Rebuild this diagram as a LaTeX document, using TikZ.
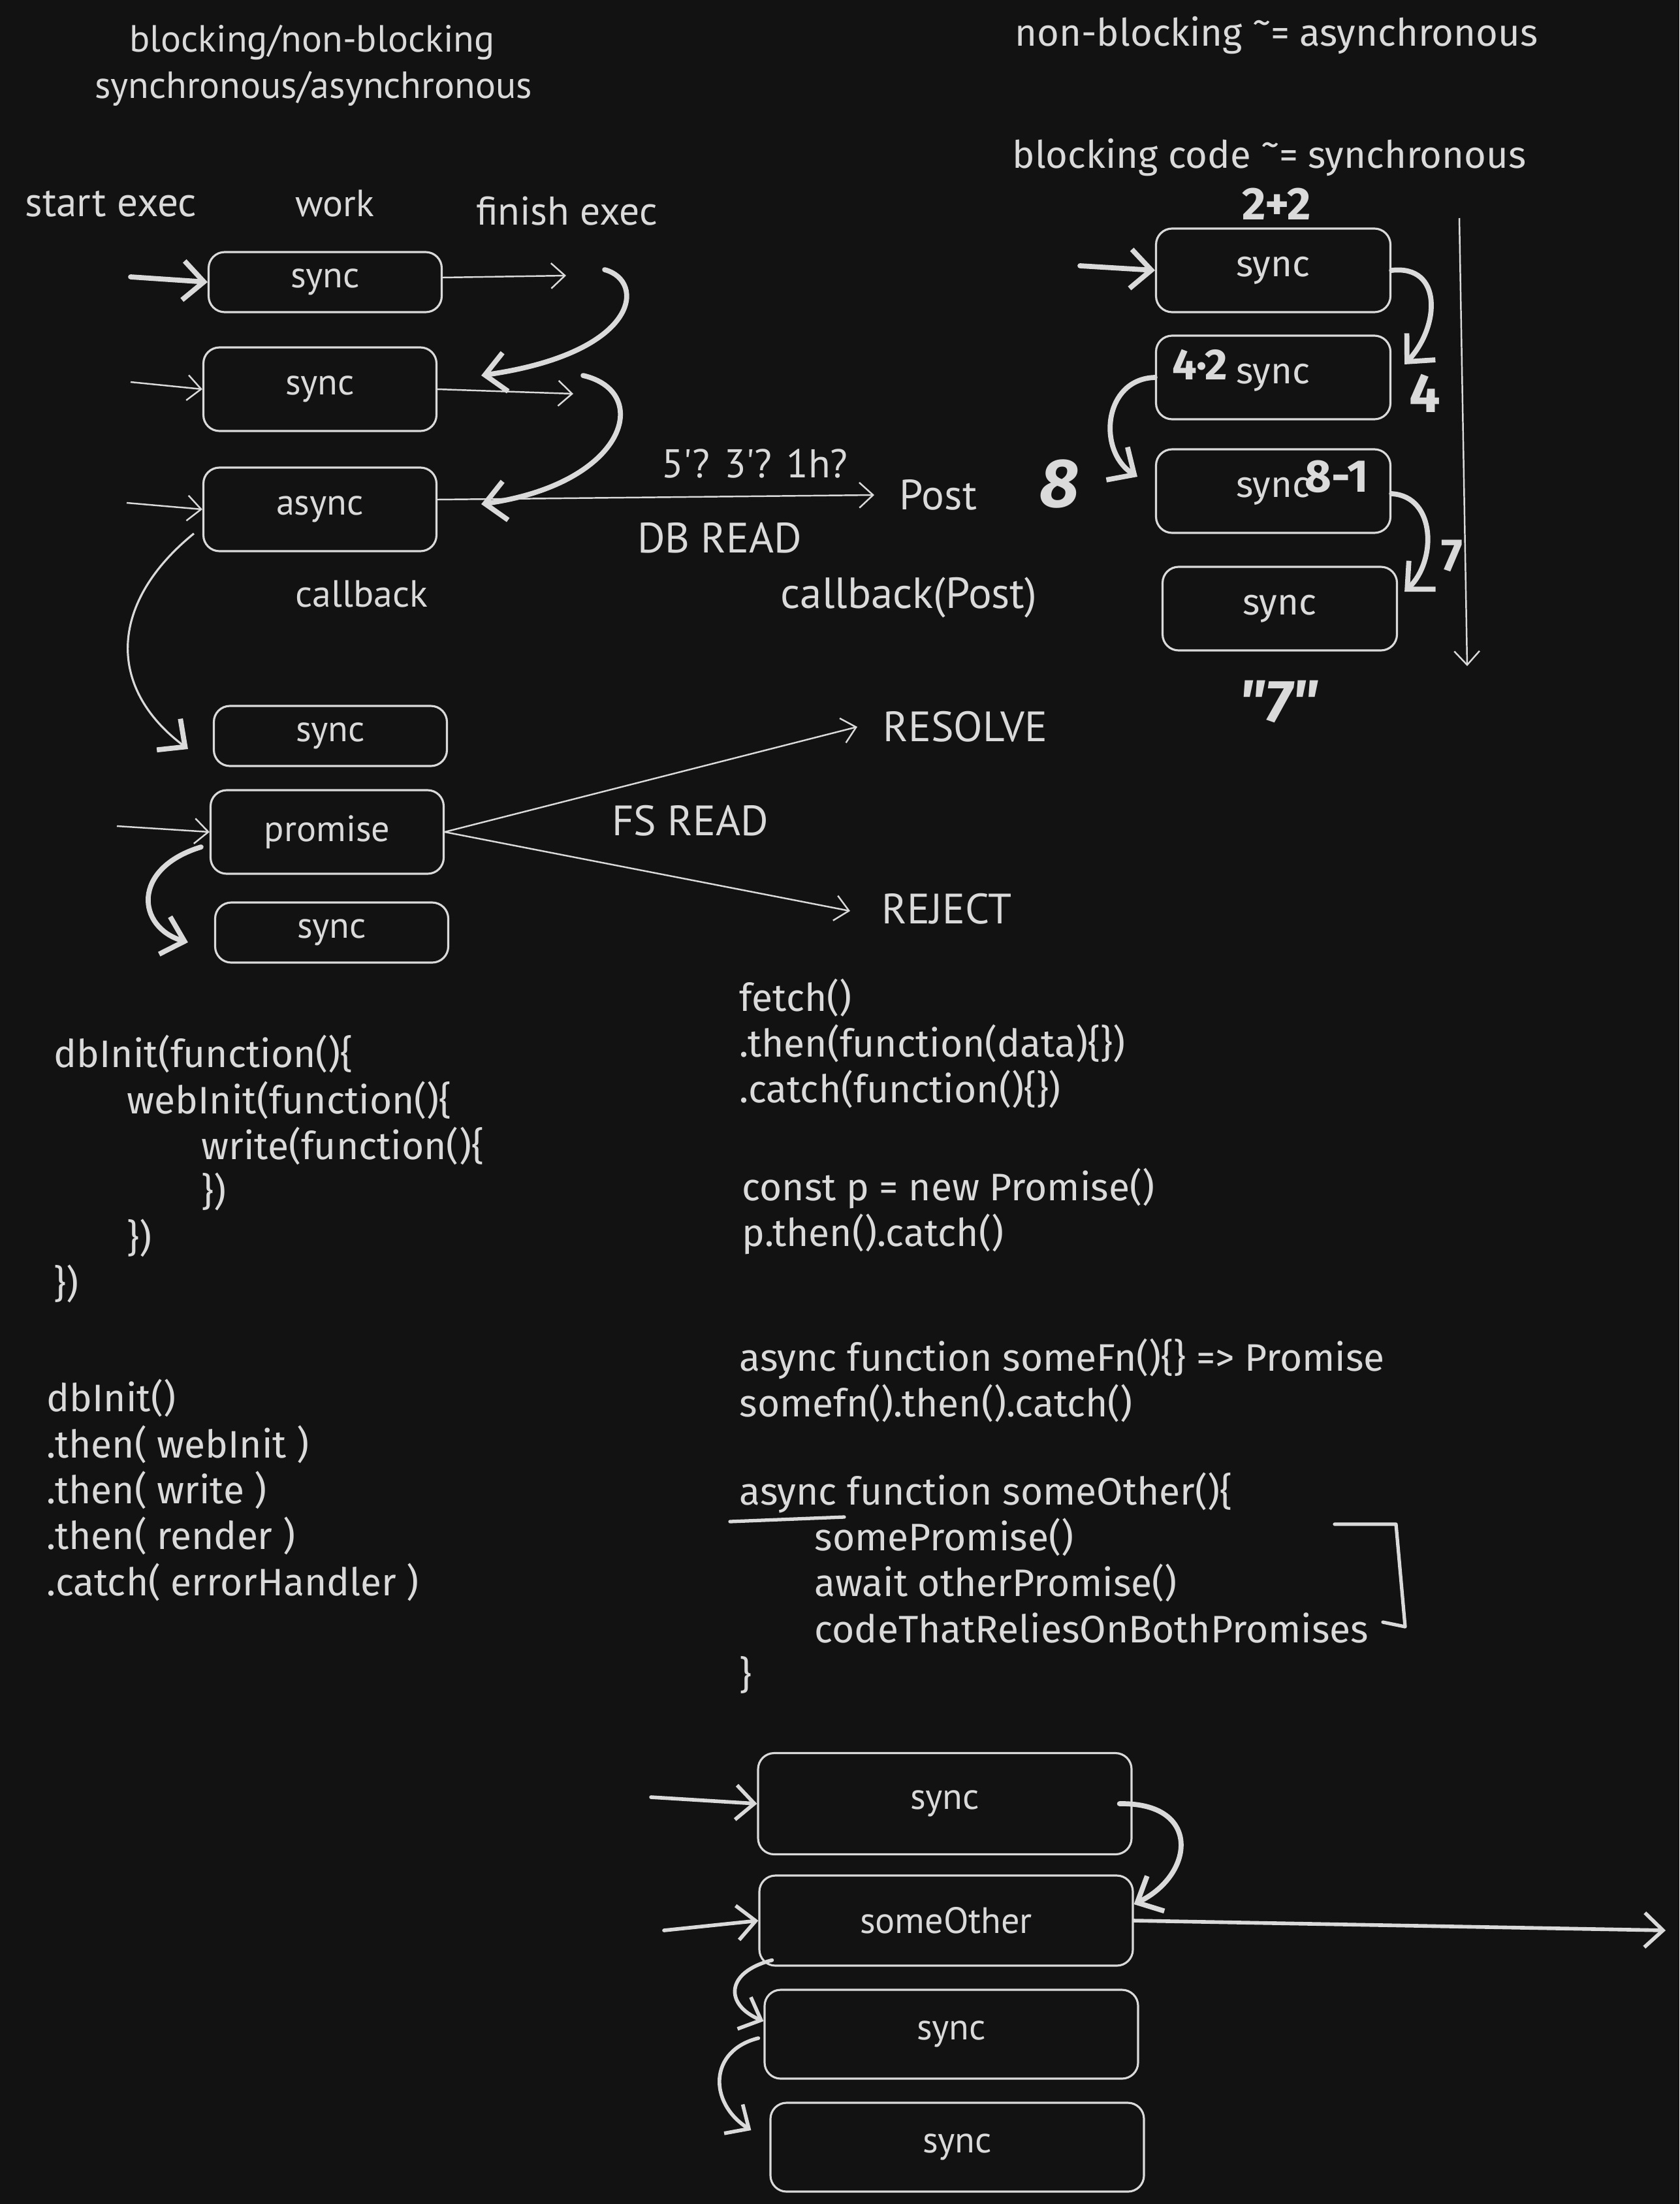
\documentclass[tikz,border=0pt]{standalone}
\usepackage{fontspec}
\setmainfont{Fira Sans}
\newfontfamily\virgil{PT Sans}
\newfontfamily\excali{Fira Sans}
\usetikzlibrary{arrows.meta, positioning, calc}
\definecolor{board}{HTML}{121212}
\definecolor{chalk}{HTML}{DADADA}
\newcommand{\approxeq}{\raisebox{0.55ex}{\textasciitilde}=}

\begin{document}
\begin{tikzpicture}[
  box/.style={rectangle, rounded corners=7pt, draw=chalk, line width=0.9pt,
              text=chalk, font=\virgil\fontsize{16}{19}\selectfont},
  lbox/.style={box, minimum width=3.57cm, minimum height=0.92cm},
  tbox/.style={box, minimum width=3.57cm, minimum height=1.28cm},
  rbox/.style={box, minimum width=3.59cm, minimum height=1.28cm,
               font=\excali\fontsize{16}{19}\selectfont},
  bbox/.style={box, minimum width=5.72cm, minimum height=1.38cm},
  lbl/.style={text=chalk, font=\virgil\fontsize{16.5}{19}\selectfont, inner sep=0pt},
  caps/.style={lbl, font=\virgil\fontsize{18.5}{21}\selectfont},
  hand/.style={text=chalk, font=\excali\fontsize{16.5}{19}\selectfont, inner sep=0pt},
  code/.style={text=chalk, anchor=west, align=left, inner sep=0pt,
               font=\excali\fontsize{16.7}{20}\selectfont},
  num/.style={text=chalk, inner sep=0pt, font=\excali\bfseries\fontsize{20}{22}\selectfont},
  slim/.style={-{Straight Barb[length=6pt,width=11pt]}, chalk, line width=0.7pt},
  heavy/.style={-{Straight Barb[length=9pt,width=17pt,line width=2.2pt]}, chalk,
                line width=2.2pt, line cap=round},
  cbk/.style={-{Straight Barb[length=9pt,width=17pt,line width=2.2pt]}, chalk,
              line width=0.9pt},
  mid/.style={-{Straight Barb[length=8pt,width=15pt,line width=1.6pt]}, chalk,
              line width=1.6pt, line cap=round},
  stroke/.style={chalk, line width=1.5pt, line cap=round, line join=round},
]
  \useasboundingbox (0,0) rectangle (25.72,-33.75);
  \fill[board] (0,0) rectangle (25.72,-33.75);

  %% ── Headings (top left) ─────────────────────────────────────────────────
  \node[lbl] (hd1) at (4.78,-0.65) {blocking/non-blocking};
  \node[lbl] (hd2) at (4.80,-1.36) {synchronous/asynchronous};
  \node[lbl, font=\virgil\fontsize{18}{21}\selectfont] (st)  at (1.70,-3.12) {start exec};
  \node[lbl] (wk)  at (5.13,-3.12) {work};
  \node[lbl, font=\virgil\fontsize{17.5}{21}\selectfont] (fin) at (8.68,-3.23) {finish exec};

  %% ── Left column boxes ───────────────────────────────────────────────────
  \node[lbox] (s1) at (4.98,-4.32)  {sync};
  \node[tbox] (s2) at (4.90,-5.96)  {sync};
  \node[tbox] (as) at (4.90,-7.80)  {async};
  \node[lbox] (s3) at (5.06,-11.27) {sync};
  \node[tbox] (pr) at (5.01,-12.74) {promise};
  \node[lbox] (s4) at (5.08,-14.28) {sync};

  %% ── Left column labels ──────────────────────────────────────────────────
  \node[lbl]  (cb)   at (5.54,-9.10)  {callback};
  \node[lbl, font=\virgil\fontsize{17.5}{21}\selectfont] (wait) at (11.56,-7.10) {5\textquotesingle? 3\textquotesingle? 1h?};
  \node[lbl, anchor=west, font=\virgil\fontsize{18.5}{21}\selectfont] (post) at (13.77,-7.58) {Post};
  \node[caps] (db)   at (11.02,-8.24) {DB READ};
  \node[lbl, font=\virgil\fontsize{19}{21}\selectfont] (cbp) at (13.92,-9.15) {callback(Post)};
  \node[caps, anchor=west] (rsv) at (13.52,-11.13) {RESOLVE};
  \node[caps, anchor=west] (rej) at (13.50,-13.92) {REJECT};
  \node[caps] (fs)   at (10.57,-12.57) {FS READ};

  %% ── Left column arrows ──────────────────────────────────────────────────
  \coordinate (in1)  at (2.00,-4.24);
  \coordinate (in2)  at (2.00,-5.85);
  \coordinate (in3)  at (1.94,-7.70);
  \coordinate (in4)  at (1.79,-12.65);
  \coordinate (out1) at (8.67,-4.22);
  \coordinate (out2) at (8.78,-6.03);
  \coordinate (ret1) at (9.26,-4.13);
  \coordinate (ret2) at (8.93,-5.75);

  \draw[heavy] (in1) -- (s1.west);
  \draw[slim]  (in2) -- (s2.west);
  \draw[slim]  (in3) -- (as.west);
  \draw[slim]  (in4) -- (pr.west);
  \draw[slim]  ([yshift=0.7mm]s1.east) -- (out1);
  \draw[slim]  (s2.east) -- (out2);
  \draw[heavy] (ret1) .. controls (9.9,-4.3) and (9.8,-5.4) .. ([shift={(0.67,0.21)}]s2.east);
  \draw[heavy] (ret2) .. controls (10.0,-6.0) and (9.6,-7.4) .. ([shift={(0.67,0.08)}]as.east);
  \draw[slim]  ([yshift=1.5mm]as.east) -- ([xshift=-3.8mm]post.west);
  \draw[cbk]   ([shift={(-0.13,-0.37)}]as.west) .. controls (1.7,-9.2) and (1.6,-10.5)
               .. ([shift={(-0.38,-0.20)}]s3.west);
  \draw[heavy] ([shift={(-0.13,-0.23)}]pr.west) .. controls (2.0,-13.3) and (2.1,-14.2)
               .. ([shift={(-0.40,-0.15)}]s4.west);
  \draw[slim]  (pr.east) -- ([xshift=-3.9mm]rsv.west);
  \draw[slim]  (pr.east) -- ([xshift=-4.8mm,yshift=-0.3mm]rej.west);

  %% ── Right column (blocking code) ────────────────────────────────────────
  \node[hand, anchor=west] (nb) at (15.54,-0.54) {non-blocking \approxeq{} asynchronous};
  \node[hand, anchor=west] (bc) at (15.50,-2.41) {blocking code \approxeq{} synchronous};

  \node[rbox] (r1) at (19.50,-4.14) {sync};
  \node[rbox] (r2) at (19.50,-5.78) {sync};
  \node[rbox] (r3) at (19.50,-7.52) {sync};
  \node[rbox] (r4) at (19.60,-9.32) {sync};

  \node[num] (n22) at (19.55,-3.12) {2+2};
  \node[num, font=\excali\bfseries\fontsize{19}{21}\selectfont] (n42) at (18.38,-5.58) {4·2};
  \node[num, font=\excali\bfseries\fontsize{24}{26}\selectfont] (n4) at (21.82,-6.02) {4};
  \node[num, font=\excali\bfseries\itshape\fontsize{30}{32}\selectfont] (n8) at (16.23,-7.41) {8};
  \node[num] (n81) at (20.47,-7.30) {8-1};
  \node[num] (n7)  at (22.24,-8.51) {7};
  \node[num, font=\excali\bfseries\itshape\fontsize{26}{28}\selectfont] (nq7) at (19.58,-10.75) {\textquotedbl 7\textquotedbl};

  \coordinate (rin) at (16.54,-4.07);
  \coordinate (tl0) at (22.35,-3.34);
  \coordinate (tl1) at (22.47,-10.20);

  \draw[heavy] (rin) -- (r1.west);
  \draw[heavy] (r1.east) .. controls (22.1,-4.05) and (22.05,-5.0) .. ([shift={(0.20,0.20)}]r2.east);
  \draw[heavy] (r2.west) .. controls (16.9,-5.8) and (16.8,-6.9) .. ([shift={(-0.27,0.22)}]r3.west);
  \draw[heavy] ([yshift=-0.4mm]r3.east) .. controls (22.0,-7.6) and (22.0,-8.6) .. ([shift={(0.10,0.26)}]r4.east);
  \draw[slim]  (tl0) -- (tl1);

  %% ── Code snippets ───────────────────────────────────────────────────────
  \node[code] (nest) at (0.82,-17.90) {dbInit(function()\{\\
    \hspace*{1.12cm}webInit(function()\{\\
    \hspace*{2.26cm}write(function()\{\\
    \hspace*{2.26cm}\})\\
    \hspace*{1.12cm}\})\\
    \})};
  \node[code] (chain) at (0.71,-22.82) {dbInit()\\
    .then( webInit )\\
    .then( write )\\
    .then( render )\\
    .catch( errorHandler )};

  \node[code] (fetch) at (11.32,-15.98) {fetch()\\
    .then(function(data)\{\})\\
    .catch(function()\{\})};
  \node[code] (prom) at (11.36,-18.55) {const p = new Promise()\\
    p.then().catch()};
  \node[code] (afn) at (11.32,-21.14) {async function someFn()\{\} => Promise\\
    somefn().then().catch()};
  \node[code] (aoth) at (11.32,-24.24) {async function someOther()\{\\
    \hspace*{1.15cm}somePromise()\\
    \hspace*{1.15cm}await otherPromise()\\
    \hspace*{1.15cm}codeThatReliesOnBothPromises\\
    \}};

  \draw[stroke] (11.18,-23.30) -- (12.93,-23.23);
  \draw[stroke] (20.44,-23.34) -- (21.38,-23.34) -- (21.52,-24.91) -- (21.18,-24.84);

  %% ── Bottom stack (someOther) ────────────────────────────────────────────
  \node[bbox, minimum height=1.55cm] (b1) at (14.47,-27.62) {sync};
  \node[bbox]                        (b2) at (14.49,-29.41) {someOther};
  \node[bbox, minimum height=1.36cm] (b3) at (14.57,-31.15) {sync};
  \node[bbox, minimum height=1.36cm] (b4) at (14.66,-32.88) {sync};

  \coordinate (bin1) at (9.97,-27.52);
  \coordinate (bin2) at (10.17,-29.56);
  \coordinate (bout) at (25.51,-29.56);

  \draw[mid]   (bin1) -- (b1.west);
  \draw[mid]   (bin2) -- (b2.west);
  \draw[mid]   (b2.east) -- (bout);
  \draw[heavy] ([xshift=-2mm]b1.east) .. controls (18.4,-27.6) and (18.3,-28.7) .. ([yshift=2.5mm]b2.east);
  \draw[mid]   ($(b2.south west)+(0.21,0.10)$) .. controls (11.1,-30.2) and (11.1,-30.7) .. ([yshift=2mm]b3.west);
  \draw[mid]   ([xshift=-0.8mm,yshift=-0.6mm]b3.west) .. controls (10.85,-31.4) and (10.85,-32.2)
               .. ([shift={(-0.28,0.26)}]b4.west);

\end{tikzpicture}
\end{document}
